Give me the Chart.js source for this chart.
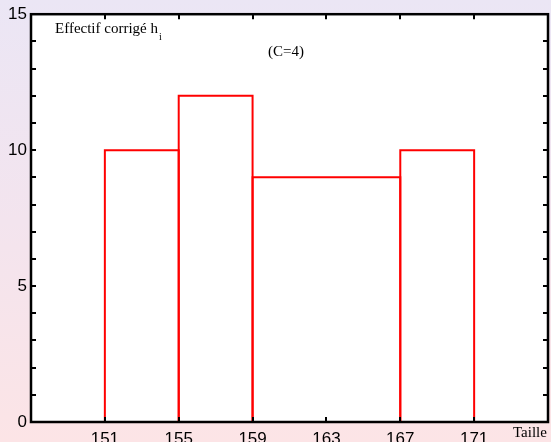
<!DOCTYPE html>
<html>
<head>
<meta charset="utf-8">
<title>Histogramme des tailles</title>
<script src="https://cdn.jsdelivr.net/npm/chart.js@4.4.1/dist/chart.umd.min.js"></script>
<style>
  html, body { margin: 0; padding: 0; }
  body {
    width: 551px;
    height: 442px;
    overflow: hidden;
    background: linear-gradient(to bottom, #ebe6f5 0%, #f3e4ee 50%, #fce4e6 100%);
  }
  #histo { display: block; }
</style>
</head>
<body>
<canvas id="histo" width="551" height="442"></canvas>
<script>
// classes de taille (bornes) et effectifs corrigés h_i
const edges = [151, 155, 159, 167, 171];
const counts = [10, 12, 9, 10];

// graduations
const xTicks = [151, 155, 159, 163, 167, 171];
const yTicks = [0, 1, 2, 3, 4, 5, 6, 7, 8, 9, 10, 11, 12, 13, 14, 15];
const yLabels = [0, 5, 10, 15];

// one outlined rectangle per class
const datasets = counts.map((h, i) => ({
  data: [
    { x: edges[i], y: 0 },
    { x: edges[i], y: h },
    { x: edges[i + 1], y: h },
    { x: edges[i + 1], y: 0 }
  ],
  showLine: true,
  fill: false,
  borderColor: "#ff0000",
  borderWidth: 2,
  pointRadius: 0,
  tension: 0
}));

// white plot area, black frame with inward ticks, free text
const frame = {
  id: "frame",
  beforeDraw(chart) {
    const { ctx, chartArea: a } = chart;
    ctx.save();
    ctx.fillStyle = "#ffffff";
    ctx.fillRect(a.left, a.top, a.right - a.left, a.bottom - a.top);
    ctx.restore();
  },
  afterDraw(chart) {
    const { ctx, chartArea: a, scales } = chart;
    ctx.save();
    ctx.strokeStyle = "#000";
    ctx.lineWidth = 2;

    ctx.beginPath();
    xTicks.forEach(v => {
      const px = Math.round(scales.x.getPixelForValue(v));
      ctx.moveTo(px, a.bottom);
      ctx.lineTo(px, a.bottom - 5);
      ctx.moveTo(px, a.top);
      ctx.lineTo(px, a.top + 5);
    });
    yTicks.forEach(v => {
      const py = Math.round(scales.y.getPixelForValue(v));
      ctx.moveTo(a.left, py);
      ctx.lineTo(a.left + 5, py);
      ctx.moveTo(a.right, py);
      ctx.lineTo(a.right - 5, py);
    });
    ctx.stroke();

    ctx.lineWidth = 2.5;
    ctx.strokeRect(a.left, a.top, a.right - a.left, a.bottom - a.top);

    ctx.fillStyle = "#000";
    ctx.textBaseline = "alphabetic";
    ctx.textAlign = "left";
    ctx.font = "15px 'Liberation Serif', 'Times New Roman', serif";
    const title = "Effectif corrigé h";
    ctx.fillText(title, 55, 33);
    const w = ctx.measureText(title).width;
    ctx.font = "10px 'Liberation Serif', 'Times New Roman', serif";
    ctx.fillText("i", 55 + w + 1, 40);

    ctx.font = "15px 'Liberation Serif', 'Times New Roman', serif";
    ctx.fillText("(C=4)", 268, 56);
    ctx.fillText("Taille", 513, 437);
    ctx.restore();
  }
};

new Chart(document.getElementById("histo"), {
  type: "scatter",
  data: { datasets },
  options: {
    responsive: false,
    devicePixelRatio: 1,
    animation: false,
    layout: { padding: { top: 14, right: 3, left: 0, bottom: 0 } },
    plugins: {
      legend: { display: false },
      tooltip: { enabled: false }
    },
    scales: {
      x: {
        type: "linear",
        min: 147,
        max: 175,
        afterBuildTicks: s => { s.ticks = xTicks.map(v => ({ value: v })); },
        afterFit: s => { s.height = 20; },
        grid: { display: false, drawTicks: false },
        border: { display: false },
        ticks: {
          color: "#000",
          padding: 7,
          maxRotation: 0,
          autoSkip: false,
          font: { family: "'Liberation Sans', Arial, sans-serif", size: 17 }
        }
      },
      y: {
        type: "linear",
        min: 0,
        max: 15,
        afterBuildTicks: s => { s.ticks = yTicks.map(v => ({ value: v })); },
        afterFit: s => { s.width = 31; },
        grid: { display: false, drawTicks: false },
        border: { display: false },
        ticks: {
          color: "#000",
          padding: 4,
          autoSkip: false,
          callback: v => (yLabels.includes(v) ? String(v) : ""),
          font: { family: "'Liberation Sans', Arial, sans-serif", size: 17 }
        }
      }
    }
  },
  plugins: [frame]
});
</script>
</body>
</html>
